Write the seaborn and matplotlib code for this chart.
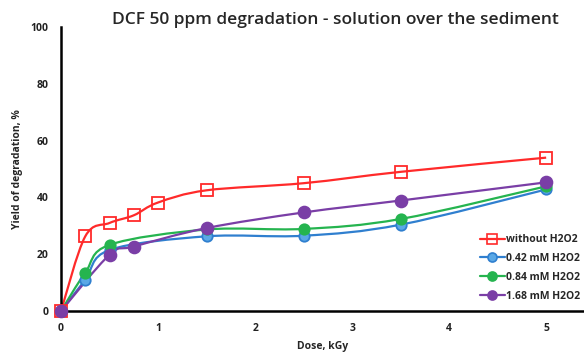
import numpy as np
import pandas as pd
import matplotlib
matplotlib.use("Agg")
import matplotlib.pyplot as plt
import seaborn as sns
from matplotlib.path import Path
from matplotlib.patches import PathPatch
from matplotlib.lines import Line2D

# data
dose_red = [0, 0.25, 0.5, 0.75, 1.0, 1.5, 2.5, 3.5, 5.0]
without_h2o2 = [0, 26.3, 31, 33.7, 38.2, 42.5, 45, 49, 54]
dose_h2o2 = [0, 0.25, 0.5, 1.5, 2.5, 3.5, 5.0]
h2o2_042 = [0, 11, 21.5, 26.3, 26.5, 30.4, 42.8]
h2o2_084 = [0, 13.5, 23.3, 28.7, 28.9, 32.4, 43.9]
dose_purple = [0, 0.5, 0.75, 1.5, 2.5, 3.5, 5.0]
h2o2_168 = [0, 19.8, 22.7, 29.2, 34.7, 38.9, 45.3]

labels = ["without H2O2", "0.42 mM H2O2", "0.84 mM H2O2", "1.68 mM H2O2"]

series = [
    (dose_red, without_h2o2, labels[0]),
    (dose_h2o2, h2o2_042, labels[1]),
    (dose_h2o2, h2o2_084, labels[2]),
    (dose_purple, h2o2_168, labels[3]),
]
df = pd.concat([pd.DataFrame({"dose": x, "yield": y, "series": s}) for x, y, s in series])

line_col = {labels[0]: "#ff2a2a", labels[1]: "#2f7fcf", labels[2]: "#25b44f", labels[3]: "#7a3ea6"}
face_col = {labels[0]: "none", labels[1]: "#5aa8e6", labels[2]: "#25b44f", labels[3]: "#7a3ea6"}
mark = {labels[0]: "s", labels[1]: "o", labels[2]: "o", labels[3]: "o"}
msize = {labels[0]: 9, labels[1]: 7.5, labels[2]: 7.5, labels[3]: 8.5}

sns.set_style("white")
plt.rcParams["font.family"] = ["Open Sans", "DejaVu Sans"]

fig = plt.figure(figsize=(5.84, 3.53), dpi=100)
ax = fig.add_axes([0.1045, 0.119, 0.8955, 0.8045])


def smooth_path(x, y):
    # excel-like smoothed line (catmull-rom as bezier)
    x = np.asarray(x, float)
    y = np.asarray(y, float)
    verts = [(x[0], y[0])]
    codes = [Path.MOVETO]
    n = len(x)
    for i in range(n - 1):
        i0 = max(i - 1, 0)
        i3 = min(i + 2, n - 1)
        c1 = (x[i] + (x[i + 1] - x[i0]) / 6, y[i] + (y[i + 1] - y[i0]) / 6)
        c2 = (x[i + 1] - (x[i3] - x[i]) / 6, y[i + 1] - (y[i3] - y[i]) / 6)
        verts += [c1, c2, (x[i + 1], y[i + 1])]
        codes += [Path.CURVE4] * 3
    return Path(verts, codes)


for x, y, s in series:
    ax.add_patch(PathPatch(smooth_path(x, y), facecolor="none", edgecolor=line_col[s],
                           lw=1.6, zorder=2, clip_on=False))

for s in labels:
    sub = df[df["series"] == s]
    ax.plot(sub["dose"], sub["yield"], linestyle="none", marker=mark[s], ms=msize[s],
            mfc=face_col[s], mec=line_col[s], mew=1.3, zorder=3, clip_on=False)

ax.set_xlim(0, 5.39)
ax.set_ylim(0, 100)
ax.set_xticks([0, 1, 2, 3, 4, 5])
ax.set_yticks([0, 20, 40, 60, 80, 100])
sns.despine(ax=ax)
for sp in ["left", "bottom"]:
    ax.spines[sp].set_color("black")
    ax.spines[sp].set_linewidth(1.8)
ax.tick_params(axis="both", direction="out", length=4, width=1.5, color="black",
               labelsize=7.5, pad=5)
for t in ax.get_xticklabels() + ax.get_yticklabels():
    t.set_fontweight("bold")
    t.set_color("#222222")

ax.set_title("DCF 50 ppm degradation - solution over the sediment", fontsize=12.5,
             fontweight="semibold", x=0.525, y=0.98)
ax.set_ylabel("Yield of degradation, %", fontsize=7.5, fontweight="bold")
ax.yaxis.set_label_coords(-0.072, 0.5)
ax.set_xlabel("Dose, kGy", fontsize=7.5, fontweight="bold")
ax.xaxis.set_label_coords(0.5, -0.105)

handles = [Line2D([], [], color=line_col[s], lw=1.6, marker=mark[s], ms=6.5,
                  mfc=face_col[s], mec=line_col[s], mew=1.2) for s in labels]
ax.legend(handles, labels, loc="lower right", bbox_to_anchor=(1.01, 0.0), frameon=False,
          prop={"size": 7.5, "weight": "bold"}, handlelength=2.4, handletextpad=0.1,
          labelspacing=0.75)

fig.savefig("out.png", dpi=100)
